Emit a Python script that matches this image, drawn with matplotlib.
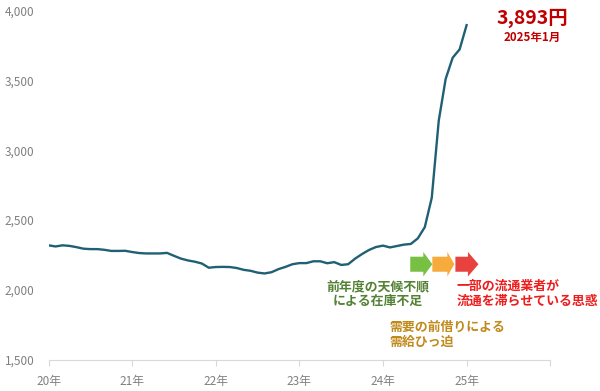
import numpy as np
import matplotlib
matplotlib.use("Agg")
import matplotlib.pyplot as plt
from matplotlib.patches import FancyArrow

plt.rcParams['font.family'] = ['Noto Sans CJK JP', 'DejaVu Sans']

#-------------------------------------------------------------------------------
# DATA  (monthly, Jan 2020 .. Jan 2025, yen)
start_year = 2020
prices = [2320, 2312, 2320, 2316, 2307, 2296, 2293, 2293, 2288, 2280, 2280, 2281,
          2272, 2265, 2262, 2262, 2262, 2266, 2245, 2225, 2212, 2203, 2190, 2160,
          2165, 2166, 2165, 2158, 2145, 2138, 2125, 2119, 2128, 2150, 2166, 2185,
          2193, 2193, 2206, 2206, 2192, 2200, 2180, 2185, 2225, 2258, 2287, 2308,
          2318, 2305, 2315, 2325, 2330, 2370, 2450, 2660, 3210, 3510, 3660, 3720,
          3893]
year_ticks = [2020, 2021, 2022, 2023, 2024, 2025, 2026]
year_labels = ["20年", "21年", "22年", "23年", "24年", "25年", ""]
y_ticks = [1500, 2000, 2500, 3000, 3500, 4000]
last_label = "3,893円"
last_date = "2025年1月"
notes = ["前年度の天候不順\nによる在庫不足",
         "需要の前借りによる\n需給ひっ迫",
         "一部の流通業者が\n流通を滞らせている思惑"]
#-------------------------------------------------------------------------------

months = start_year + np.arange(len(prices)) / 12.

fig = plt.figure(figsize=(6.0, 3.91), dpi=100)
ax = fig.add_axes([0.081, 0.079, 0.836, 0.895])

ax.plot(months, prices, color="#1f6075", lw=1.7, solid_joinstyle="round")

ax.set_xlim(2020, 2026)
ax.set_ylim(1500, 4000)
ax.set_xticks(year_ticks)
ax.set_xticklabels(year_labels)
ax.set_yticks(y_ticks)
ax.set_yticklabels([f"{v:,}" for v in y_ticks])

for s in ["top", "right", "left"]:
    ax.spines[s].set_visible(False)
ax.spines["bottom"].set_color("#d9d9d9")
ax.tick_params(axis="x", colors="#d9d9d9", length=4, pad=7, labelcolor="#808080",
               labelsize=8.5)
ax.tick_params(axis="y", length=0, pad=10, labelcolor="#808080", labelsize=8.5)

# arrows (axes fraction)
arrows = [(0.721, 0.765, 0.747, "#78c043"),
          (0.765, 0.809, 0.795, "#f7ab3d"),
          (0.811, 0.857, 0.836, "#e8423f")]
for x0, x1, xh, col in arrows:
    ax.add_patch(FancyArrow(x0, 0.274, x1 - x0, 0, width=0.043, head_width=0.07,
                            head_length=x1 - xh, length_includes_head=True,
                            transform=ax.transAxes, color=col, lw=0))

ax.text(0.657, 0.19, notes[0], transform=ax.transAxes, ha="center", va="center",
        color="#548235", fontsize=9.3, fontweight="bold", linespacing=1.1)
ax.text(0.68, 0.075, notes[1], transform=ax.transAxes, ha="left", va="center",
        color="#c08a1c", fontsize=9.3, fontweight="bold", linespacing=1.1)
ax.text(0.813, 0.19, notes[2], transform=ax.transAxes, ha="left", va="center",
        color="#ee1c1c", fontsize=9.3, fontweight="bold", linespacing=1.1)

ax.text(0.965, 0.977, last_label, transform=ax.transAxes, ha="center", va="center",
        color="#c00000", fontsize=14, fontweight="bold")
ax.text(0.965, 0.922, last_date, transform=ax.transAxes, ha="center", va="center",
        color="#c00000", fontsize=8.3, fontweight="bold")

plt.savefig("out.png", dpi=100)
